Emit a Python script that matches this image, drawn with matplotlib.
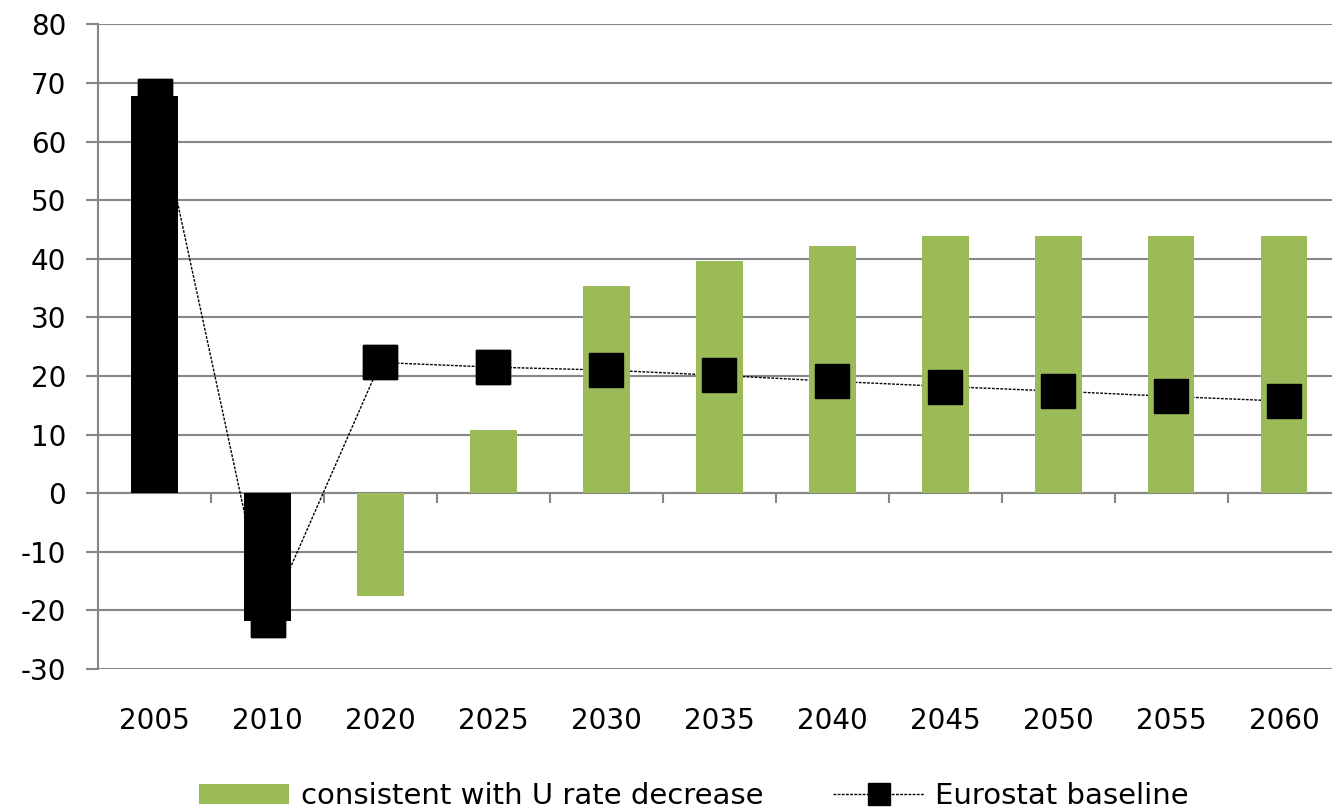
import matplotlib.pyplot as plt
import numpy as np

plt.rcParams['font.family'] = ['DejaVu Sans']

# data
years = ['2005', '2010', '2020', '2025', '2030', '2035', '2040', '2045', '2050', '2055', '2060']
u_rate_decrease = [67.7, -21.8, -17.6, 10.7, 35.3, 39.6, 42.1, 43.8, 43.8, 43.8, 43.8]
eurostat_baseline = [67.8, -21.6, 22.3, 21.5, 21.0, 20.1, 19.1, 18.2, 17.4, 16.5, 15.7]
n_hist = 2  # first two bars are observed values, drawn black
y_ticks = np.arange(-30, 81, 10)

green = '#9bbb59'
grid_col = '#868686'
bar_colors = ['black'] * n_hist + [green] * (len(years) - n_hist)

fig = plt.figure(figsize=(13.32, 8.09), dpi=100)
ax = fig.add_axes([0.0736, 0.173, 0.933, 0.797])

x = np.arange(len(years))
# line sits behind the bars, markers on top of them
ax.plot(x, eurostat_baseline, color='black', linestyle=(0, (2, 1)), linewidth=1,
        marker='s', markersize=24, zorder=2, label='Eurostat baseline')
ax.plot(x, eurostat_baseline, color='black', linestyle='none',
        marker='s', markersize=24, zorder=4)
ax.bar(x, u_rate_decrease, width=0.41, color=bar_colors, zorder=3)
# legend handle for the green series only
ax.bar([0], [0], width=0, color=green, label='consistent with U rate decrease')

ax.set_xlim(-0.5, len(years) - 0.5)
ax.set_ylim(-30, 80)
ax.set_yticks(y_ticks)
ax.set_yticklabels([str(v) for v in y_ticks], fontsize=20)
ax.set_xticks(x)
ax.set_xticklabels(years, fontsize=20)
ax.tick_params(axis='x', length=0, pad=27)
ax.tick_params(axis='y', length=9, color=grid_col, width=1.5, pad=14)

ax.grid(axis='y', color=grid_col, linewidth=1.5, zorder=0)
ax.set_axisbelow(True)
for s in ['top', 'right', 'bottom']:
    ax.spines[s].set_visible(False)
ax.spines['left'].set_color(grid_col)
ax.spines['left'].set_linewidth(1.5)

# category axis at zero with tick marks between categories
ax.axhline(0, color=grid_col, linewidth=1.5, zorder=1)
ax.vlines(x[:-1] + 0.5, -1.6, 0, color=grid_col, linewidth=1.5, zorder=1)

handles, labels = ax.get_legend_handles_labels()
fig.legend(handles[::-1], labels[::-1], loc='center', bbox_to_anchor=(0.521, 0.016),
           ncol=2, frameon=False, fontsize=21, handlelength=3.1, columnspacing=2.4,
           markerscale=0.65, handletextpad=0.4)

fig.savefig('out.png', dpi=100)
